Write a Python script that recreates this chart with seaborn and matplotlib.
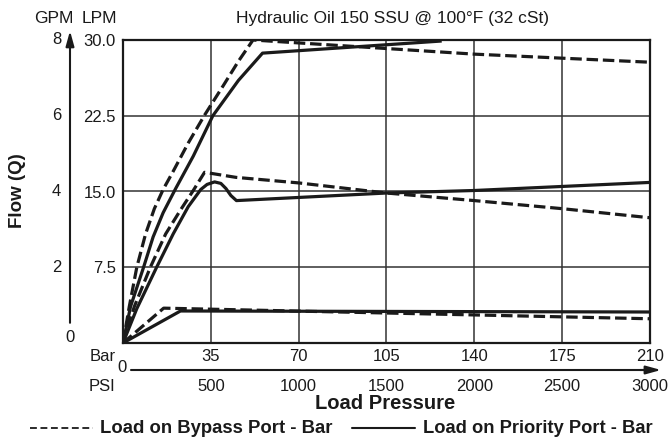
import numpy as np
import pandas as pd
import seaborn as sns
import matplotlib.pyplot as plt
from matplotlib.lines import Line2D
import matplotlib.transforms as mtransforms

# curve data (x = Bar, y = LPM)
top_bypass_bar = [0, 2.5, 5.5, 9, 12.5, 16, 20, 26, 32.6, 40, 46, 51.8, 140, 175, 210]
top_bypass_lpm = [0, 3.6, 7.5, 10.8, 13.3, 15.2, 17.0, 19.8, 22.6, 25.5, 27.9, 30.0, 28.6, 28.2, 27.8]

top_priority_bar = [0, 3, 8.2, 12, 16, 21, 28, 35.8, 46, 55.6, 127]
top_priority_lpm = [0, 3.6, 7.5, 10.5, 12.9, 15.3, 18.5, 22.5, 26.0, 28.7, 29.9]

mid_bypass_bar = [0, 4.5, 10.9, 17, 23, 28, 32.5, 45, 70, 105, 140, 175, 210]
mid_bypass_lpm = [0, 3.6, 7.5, 10.8, 13.2, 15.1, 16.9, 16.4, 15.85, 14.85, 14.1, 13.3, 12.4]

mid_priority_bar = [0, 5.5, 13.4, 20, 26, 31, 33.5, 36.5, 39, 41, 43, 45.2, 105, 140, 175, 210]
mid_priority_lpm = [0, 3.4, 7.5, 10.8, 13.5, 15.2, 15.7, 15.95, 15.8, 15.3, 14.6, 14.1, 14.85, 15.1, 15.5, 15.9]

low_bypass_bar = [0, 16.2, 210]
low_bypass_lpm = [0, 3.45, 2.4]

low_priority_bar = [0, 22.9, 210]
low_priority_lpm = [0, 3.17, 3.07]

bar_ticks = [35, 70, 105, 140, 175, 210]
psi_ticks = [500, 1000, 1500, 2000, 2500, 3000]
lpm_ticks = [7.5, 15.0, 22.5, 30.0]
lpm_labels = ["7.5", "15.0", "22.5", "30.0"]
gpm_labels = ["2", "4", "6", "8"]

sns.set_style("white")
plt.rcParams['font.family'] = ['Liberation Sans', 'DejaVu Sans']

ink = "#1a1a1a"
fs = 12

fig = plt.figure(figsize=(6.7, 4.4), dpi=100)
ax = fig.add_axes([123/670, 1-343/440, 527/670, 303/440])

curves = [
    (top_bypass_bar, top_bypass_lpm, True),
    (top_priority_bar, top_priority_lpm, False),
    (mid_bypass_bar, mid_bypass_lpm, True),
    (mid_priority_bar, mid_priority_lpm, False),
    (low_bypass_bar, low_bypass_lpm, True),
    (low_priority_bar, low_priority_lpm, False),
]
for xs, ys, dashed in curves:
    df = pd.DataFrame({"bar": xs, "lpm": ys})
    n = len(ax.lines)
    sns.lineplot(data=df, x="bar", y="lpm", ax=ax, color=ink, lw=2.3,
                 sort=False, estimator=None, zorder=3)
    ln = ax.lines[n]
    if dashed:
        ln.set_dashes([3.6, 1.5])
    ln.set_solid_capstyle("butt")
    ln.set_solid_joinstyle("round")
    ln.set_dash_joinstyle("round")

ax.set_xlim(0, 210)
ax.set_ylim(0, 30)
ax.set_xticks(bar_ticks)
ax.set_xticklabels([str(b) for b in bar_ticks])
ax.set_yticks(lpm_ticks)
ax.set_yticklabels(lpm_labels)
ax.tick_params(length=0, labelsize=fs, colors=ink, pad=5)
ax.tick_params(axis="x", pad=4)
ax.set_xlabel("")
ax.set_ylabel("")
ax.grid(True, color="#333333", lw=1.1)
for s in ax.spines.values():
    s.set_color(ink)
    s.set_linewidth(1.6)

# left GPM axis with arrow
blend = mtransforms.blended_transform_factory(ax.transAxes, ax.transData)
gx = (70 - 123) / 527
ax.annotate("", xy=(gx, 30.9), xytext=(gx, 2.0), xycoords=blend, textcoords=blend,
            arrowprops=dict(arrowstyle="-|>,head_length=0.9,head_width=0.25", color=ink,
                            lw=1.5, shrinkA=0, shrinkB=0), annotation_clip=False)
for v, lab in zip(lpm_ticks, gpm_labels):
    ax.text((61 - 123) / 527, v, lab, transform=blend, ha="right", va="center",
            fontsize=fs, color=ink)
ax.text(gx, 0.5, "0", transform=blend, ha="center", va="center", fontsize=fs, color=ink)

fig.text(54/670, 1-18.5/440, "GPM", ha="center", va="center", fontsize=12.5, color=ink)
fig.text(99/670, 1-18.5/440, "LPM", ha="center", va="center", fontsize=12.5, color=ink)
fig.text(392/670, 1-18.5/440, "Hydraulic Oil 150 SSU @ 100°F (32 cSt)", ha="center",
         va="center", fontsize=12.5, color=ink)
fig.text(18/670, 1-191/440, "Flow (Q)", rotation=90, ha="center", va="center",
         fontsize=13.5, fontweight="bold", color=ink)

# bottom pressure scales
fig.text(103/670, 1-356/440, "Bar", ha="center", va="center", fontsize=fs, color=ink)
fig.text(102/670, 1-386/440, "PSI", ha="center", va="center", fontsize=fs, color=ink)
fig.text(122/670, 1-368/440, "0", ha="center", va="center", fontsize=fs, color=ink)
fig.add_artist(Line2D([131/670, 645/670], [1-370/440, 1-370/440], color=ink, lw=1.5))
ax.annotate("", xy=(661/670, 1-370/440), xytext=(640/670, 1-370/440),
            xycoords="figure fraction", textcoords="figure fraction",
            arrowprops=dict(arrowstyle="-|>,head_length=0.9,head_width=0.25", color=ink,
                            lw=1.5, shrinkA=0, shrinkB=0), annotation_clip=False)
btrans = mtransforms.blended_transform_factory(ax.transData, fig.transFigure)
for p in psi_ticks:
    ax.text(p * 210 / 3000, 1-386.5/440, str(p), transform=btrans, ha="center", va="center",
            fontsize=fs, color=ink)
fig.text(385/670, 1-403/440, "Load Pressure", ha="center", va="center", fontsize=14.5,
         fontweight="bold", color=ink)

# legend
fig.add_artist(Line2D([30/670, 93/670], [1-428/440, 1-428/440], color=ink, lw=1.3,
                      dashes=[3.8, 2.0]))
fig.text(100/670, 1-428/440, "Load on Bypass Port - Bar", ha="left", va="center",
         fontsize=13.3, fontweight="bold", color=ink)
fig.add_artist(Line2D([352/670, 415/670], [1-428/440, 1-428/440], color=ink, lw=1.5))
fig.text(423/670, 1-428/440, "Load on Priority Port - Bar", ha="left", va="center",
         fontsize=13.2, fontweight="bold", color=ink)

fig.savefig("out.png", dpi=100)
